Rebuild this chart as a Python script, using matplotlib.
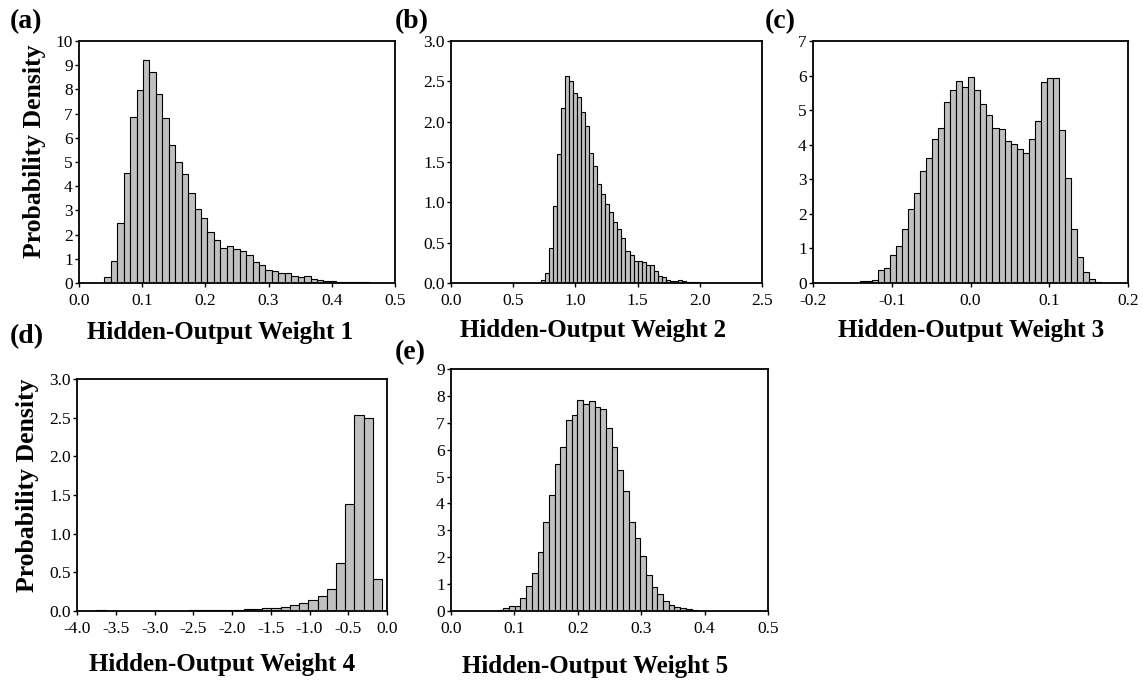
import numpy as np
import matplotlib
matplotlib.use("Agg")
import matplotlib.pyplot as plt

plt.rcParams['font.family'] = ['Liberation Serif', 'DejaVu Serif']
plt.rcParams['axes.unicode_minus'] = False

W, H = 1143, 681

# posterior histograms of the five hidden-output weights (bin start, bin width, density)
w1_start, w1_width = 0.04, 0.0102
w1_density = [0.25, 0.92, 2.5, 4.55, 6.87, 7.99, 9.23, 8.73, 7.82, 6.8,
              5.72, 5.0, 4.52, 3.7, 3.07, 2.67, 2.12, 1.76, 1.46, 1.53,
              1.42, 1.34, 1.16, 0.85, 0.73, 0.55, 0.5, 0.43, 0.41, 0.3,
              0.25, 0.28, 0.15, 0.14, 0.1, 0.07, 0.06, 0.05, 0.05, 0.04, 0.03]

w2_start, w2_width = 0.72, 0.0325
w2_density = [0.04, 0.12, 0.43, 0.95, 1.60, 2.17, 2.56, 2.51, 2.35, 2.30,
              2.12, 1.95, 1.61, 1.45, 1.23, 1.10, 0.98, 0.88, 0.76, 0.67,
              0.56, 0.40, 0.35, 0.27, 0.27, 0.26, 0.22, 0.22, 0.15, 0.09,
              0.07, 0.04, 0.03, 0.03, 0.035, 0.02, 0.01, 0.01, 0.01]

w3_start, w3_width = -0.1406, 0.00766
w3_density = [0.05, 0.05, 0.1, 0.37, 0.42, 0.8, 1.08, 1.56, 2.15, 2.6,
              3.25, 3.62, 4.17, 4.48, 5.25, 5.57, 5.84, 5.67, 5.97, 5.57,
              5.17, 4.86, 4.48, 4.45, 4.12, 4.03, 3.88, 3.76, 4.17, 4.7,
              5.82, 5.94, 5.94, 4.42, 3.03, 1.56, 0.75, 0.33, 0.12, 0.03]

w4_start, w4_width = -3.75, 0.1189
w4_density = [0.01, 0, 0, 0, 0, 0, 0, 0, 0, 0,
              0.008, 0.01, 0.01, 0.012, 0.012, 0.015, 0.025, 0.03, 0.035, 0.04,
              0.055, 0.08, 0.1, 0.14, 0.2, 0.29, 0.62, 1.38, 2.53, 2.49, 0.42]

w5_start, w5_width = 0.0735, 0.009
w5_density = [0.05, 0.1, 0.17, 0.2, 0.5, 0.93, 1.4, 2.2, 3.3, 4.3,
              5.45, 6.1, 7.1, 7.3, 7.85, 7.7, 7.82, 7.58, 7.5, 6.8,
              6.1, 5.25, 4.45, 3.3, 2.72, 2.05, 1.35, 0.9, 0.65, 0.37,
              0.23, 0.15, 0.1, 0.06, 0.04]

xlabels = ['Hidden-Output Weight 1', 'Hidden-Output Weight 2', 'Hidden-Output Weight 3',
           'Hidden-Output Weight 4', 'Hidden-Output Weight 5']
panel_tags = ['(a)', '(b)', '(c)', '(d)', '(e)']


def px_axes(fig, left, right, top, bottom):
    return fig.add_axes([left / W, 1 - bottom / H, (right - left) / W, (bottom - top) / H])


def px_text(fig, x, y, s, **kw):
    fig.text(x / W, 1 - y / H, s, **kw)


def histo(ax, start, width, dens, xlim, xticks, ylim, yticks, yfmt):
    x = start + width * np.arange(len(dens))
    ax.bar(x, dens, width=width, align='edge', color='#c0c0c0',
           edgecolor='black', linewidth=0.8)
    ax.set_xlim(*xlim)
    ax.set_ylim(*ylim)
    ax.set_xticks(xticks)
    ax.set_xticklabels(['%.1f' % t for t in xticks])
    ax.set_yticks(yticks)
    ax.set_yticklabels([yfmt % t for t in yticks])
    ax.tick_params(direction='out', length=3, width=1, labelsize=12.5)
    ax.tick_params(axis='x', pad=4)
    ax.tick_params(axis='y', pad=1.5)
    for sp in ax.spines.values():
        sp.set_linewidth(1.3)


fig = plt.figure(figsize=(W / 100, H / 100), dpi=100)

ax1 = px_axes(fig, 79, 395, 41, 283)
histo(ax1, w1_start, w1_width, w1_density, (0, 0.5), np.arange(0, 0.51, 0.1),
      (0, 10), np.arange(0, 11, 1), '%d')
ax2 = px_axes(fig, 451, 762, 41, 283)
histo(ax2, w2_start, w2_width, w2_density, (0, 2.5), np.arange(0, 2.51, 0.5),
      (0, 3), np.arange(0, 3.01, 0.5), '%.1f')
ax3 = px_axes(fig, 813, 1128, 41, 283)
histo(ax3, w3_start, w3_width, w3_density, (-0.2, 0.2), [-0.2, -0.1, 0.0, 0.1, 0.2],
      (0, 7), np.arange(0, 8, 1), '%d')
ax4 = px_axes(fig, 77, 387, 379, 611)
histo(ax4, w4_start, w4_width, w4_density, (-4, 0), np.arange(-4, 0.01, 0.5),
      (0, 3), np.arange(0, 3.01, 0.5), '%.1f')
ax5 = px_axes(fig, 451, 768, 369, 611)
histo(ax5, w5_start, w5_width, w5_density, (0, 0.5), np.arange(0, 0.51, 0.1),
      (0, 9), np.arange(0, 10, 1), '%d')

# panel tags
tag_pos = [(10, 22), (395, 22), (765, 22), (10, 337), (395, 353)]
for tag, (tx, ty) in zip(panel_tags, tag_pos):
    px_text(fig, tx, ty, tag, ha='left', va='center', fontsize=20, fontweight='bold')

# axis titles
xlab_pos = [(220, 332), (593, 330), (971, 330), (222, 665), (595, 667)]
for lab, (lx, ly) in zip(xlabels, xlab_pos):
    px_text(fig, lx, ly, lab, ha='center', va='center', fontsize=18, fontweight='bold')

px_text(fig, 35, 151, 'Probability Density', ha='center', va='center',
        rotation=90, fontsize=18.5, fontweight='bold')
px_text(fig, 28, 485, 'Probability Density', ha='center', va='center',
        rotation=90, fontsize=18.5, fontweight='bold')

fig.savefig('out.png', dpi=100)
